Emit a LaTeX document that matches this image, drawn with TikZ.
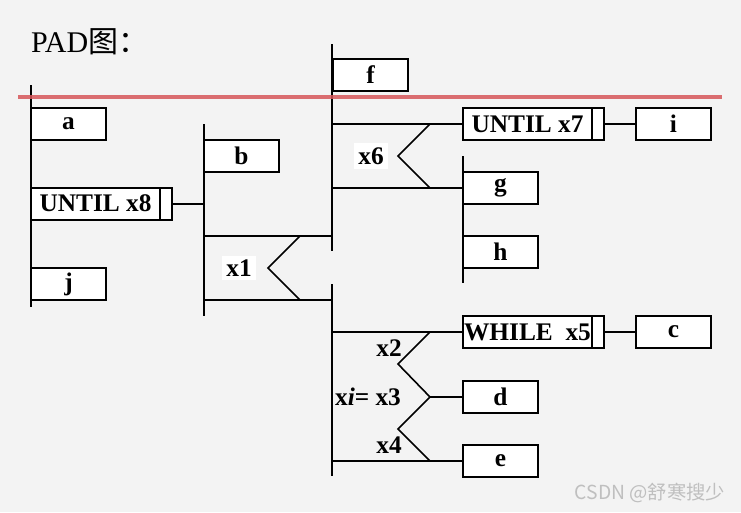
\documentclass[tikz,border=0pt]{standalone}
\usepackage{fontspec}
\setmainfont{Liberation Serif}
\newfontfamily\cjkfont{Noto Sans CJK SC}
\usepackage{tikz}
\usetikzlibrary{positioning}
\definecolor{paper}{RGB}{243,243,243}
\definecolor{redrule}{RGB}{214,86,90}

\begin{document}
\begin{tikzpicture}[x=0.75pt,y=-0.75pt,line width=1.5pt,
	box/.style={draw,fill=white,minimum width=56.25pt,minimum height=24pt,inner sep=0pt,outer sep=0pt,font=\fontsize{19}{22}\selectfont\bfseries},
	loopbox/.style={box,minimum width=96.75pt},
	strip/.style={draw,fill=white,minimum width=9pt,minimum height=24pt,inner sep=0pt,outer sep=0pt},
	cond/.style={font=\fontsize{19}{22}\selectfont\bfseries,inner sep=3pt},
	chev/.style={line width=1.2pt}]
	\useasboundingbox (0,0) rectangle (741,512);
	\fill[paper] (0,0) rectangle (741,512);
	\node[anchor=base west,inner sep=0pt,font=\fontsize{22.5}{26}\selectfont] (title) at (30,52) {PAD{\cjkfont 图：}};
	% spines
	\coordinate (sA1) at (31,85);  \coordinate (sA2) at (31,307);
	\coordinate (sB1) at (204,124); \coordinate (sB2) at (204,316);
	\coordinate (sC1) at (332,44);  \coordinate (sC2) at (332,251);
	\coordinate (sD1) at (332,284); \coordinate (sD2) at (332,476);
	\coordinate (sE1) at (463,156); \coordinate (sE2) at (463,283);
	\foreach \p/\q in {sA1/sA2,sB1/sB2,sC1/sC2,sD1/sD2,sE1/sE2}
		\draw (\p)--(\q);
	% first column
	\node[box] (a) at (68.5,124) {a};
	\node[loopbox,anchor=west] (u8) at (31,203.5) {UNTIL x8};
	\node[strip,right=0pt of u8] (u8s) {};
	\node[box] (j) at (68.5,284) {j};
	\draw (u8s.east)--(sB1 |- u8s.east);
	% second column
	\node[box] (b) at (241.5,156) {b};
	\coordinate (x1t) at (332,236); \coordinate (x1b) at (332,300);
	\draw (sB1 |- x1t)--(x1t) (sB1 |- x1b)--(x1b);
	\draw[chev] (300,236)--(268,268)--(300,300);
	\node[cond,fill=white] (x1) at (239,268) {x1};
	% upper block
	\node[box] (f) at (370.5,75) {f};
	\node[loopbox,anchor=west] (u7) at (463,124) {UNTIL x7};
	\node[strip,right=0pt of u7] (u7s) {};
	\node[box] (i) at (673.5,124) {i};
	\node[box] (g) at (500.5,188) {g};
	\node[box] (h) at (500.5,252) {h};
	\draw (sC1 |- u7.west)--(u7.west) (sC1 |- g.west)--(g.west) (u7s.east)--(i.west);
	\draw[chev] (430,124)--(398,156)--(430,188);
	\node[cond,fill=white] (x6) at (371,156) {x6};
	% lower block
	\node[loopbox,anchor=west] (w5) at (463,332) {WHILE\ \ x5};
	\node[strip,right=0pt of w5] (w5s) {};
	\node[box] (c) at (673.5,332) {c};
	\node[box] (d) at (500.5,397) {d};
	\node[box] (e) at (500.5,461) {e};
	\coordinate (mid) at (430,397);
	\draw (sD1 |- w5.west)--(w5.west) (sD1 |- e.west)--(e.west) (mid)--(d.west) (w5s.east)--(c.west);
	\draw[chev] (430,332)--(398,364)--(mid)--(398,429)--(430,461);
	\node[cond] (x2) at (389,348) {x2};
	\node[cond] (x3) at (368,397) {x\textit{i}= x3};
	\node[cond] (x4) at (389,445) {x4};
	% red rule and mark
	\draw[redrule,line width=2.5pt,opacity=0.85] (18,97)--(722,97);
	\node[text=gray!50,font=\cjkfont\fontsize{14.5}{17}\selectfont] (mark) at (650,493) {CSDN @舒寒搜少};
\end{tikzpicture}
\end{document}
